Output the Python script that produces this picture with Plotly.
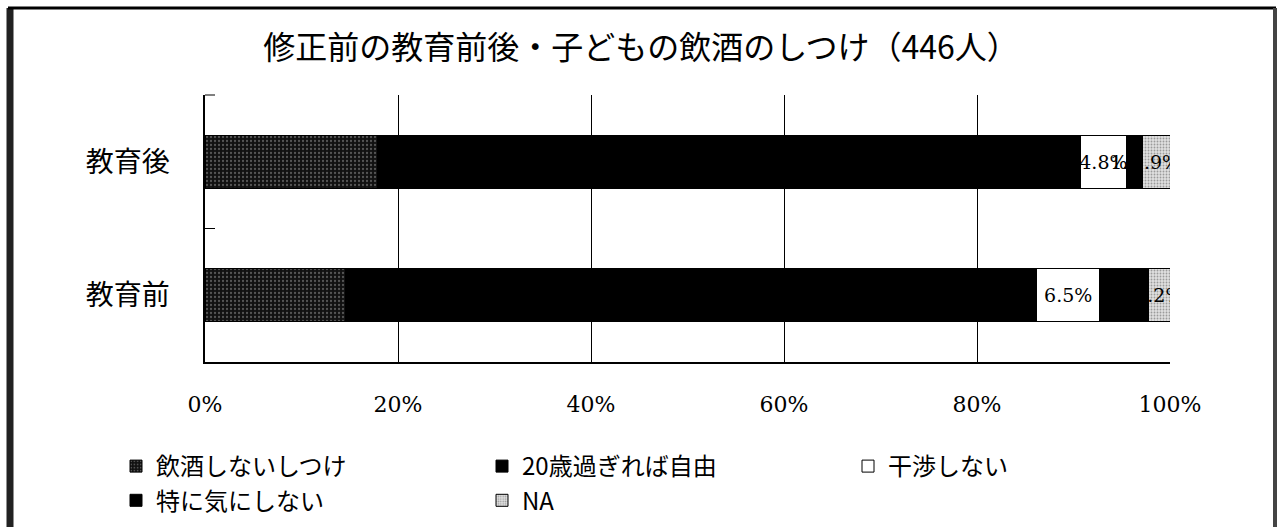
import plotly.graph_objects as go

categories = ["教育前", "教育後"]
series_names = ["飲酒しないしつけ", "20歳過ぎれば自由", "干渉しない", "特に気にしない", "NA"]
v_no_drink = [14.6, 17.9]
v_free20 = [71.6, 72.8]
v_no_interfere = [6.5, 4.8]
v_dont_care = [5.1, 1.6]
v_na = [2.2, 2.9]
series_values = [v_no_drink, v_free20, v_no_interfere, v_dont_care, v_na]
x_ticks = [0, 20, 40, 60, 80, 100]
x_tick_labels = ["0%", "20%", "40%", "60%", "80%", "100%"]
title_text = "修正前の教育前後・子どもの飲酒のしつけ（446人）"

JP = "Noto Sans CJK JP"
SERIF = "DejaVu Serif"

styles = [
    dict(color="#1a1a1a", pattern=dict(shape=".", fgcolor="#9a9a9a", bgcolor="#111111", size=4, solidity=0.25)),
    dict(color="#000000"),
    dict(color="#ffffff"),
    dict(color="#000000"),
    dict(color="#d8d8d8", pattern=dict(shape=".", fgcolor="#555555", bgcolor="#e0e0e0", size=3, solidity=0.3)),
]
show_text = [False, False, True, True, True]

fig = go.Figure()
for name, vals, st, st_txt in zip(series_names, series_values, styles, show_text):
    marker = dict(color=st["color"], line=dict(color="#000000", width=1))
    if "pattern" in st:
        marker["pattern"] = st["pattern"]
    fig.add_trace(go.Bar(
        y=categories, x=vals, name=name, orientation="h",
        marker=marker, width=0.4,
        text=[f"{v:.1f}%" for v in vals] if st_txt else None,
        textposition="inside" if st_txt else "none",
        insidetextanchor="middle",
        textangle=0,
        constraintext="none",
        textfont=dict(family=SERIF, size=19, color="#000000"),
        hoverinfo="x+y+name",
    ))

W, H = 1282, 527
L, R, T, B = 205, 1170, 95, 362

def px(x):
    return (x - L) / (R - L)

def py(y):
    return (B - y) / (B - T)

shapes = [
    dict(type="line", xref="paper", yref="paper", x0=px(10), x1=px(10), y0=py(8), y1=py(530),
         line=dict(color="#222222", width=7)),
    dict(type="line", xref="paper", yref="paper", x0=px(8), x1=px(1276), y0=py(8), y1=py(8),
         line=dict(color="#000000", width=3)),
    dict(type="line", xref="paper", yref="paper", x0=px(1275), x1=px(1275), y0=py(8), y1=py(530),
         line=dict(color="#444444", width=4)),
    dict(type="line", xref="paper", yref="paper", x0=0, x1=px(215), y0=1, y1=1,
         line=dict(color="#000000", width=1)),
]

fig.update_layout(
    width=W, height=H,
    margin=dict(l=L, r=W - R, t=T, b=H - B, autoexpand=False),
    paper_bgcolor="#ffffff", plot_bgcolor="#ffffff",
    barmode="stack",
    title=dict(text=title_text, x=0.5, xanchor="center", y=1 - 48 / H, yanchor="middle",
               font=dict(family=JP, size=32, color="#000000")),
    xaxis=dict(range=[0, 100], tickvals=x_ticks, ticktext=x_tick_labels,
               showgrid=True, gridcolor="#000000", gridwidth=1,
               showline=True, linecolor="#000000", linewidth=1.5, mirror=False,
               ticks="", ticklabelstandoff=22,
               tickfont=dict(family=SERIF, size=22, color="#000000"), zeroline=False, fixedrange=True),
    yaxis=dict(type="category", categoryorder="array", categoryarray=categories,
               showline=True, linecolor="#000000", linewidth=1.5,
               ticks="inside", ticklen=10, tickcolor="#000000", tickwidth=1, tickson="boundaries",
               ticklabelstandoff=28, showgrid=False,
               tickfont=dict(family=JP, size=28, color="#000000"), fixedrange=True),
    legend=dict(orientation="h", x=px(116), xanchor="left", y=py(444), yanchor="top",
                entrywidth=321, entrywidthmode="pixels", traceorder="normal",
                font=dict(family=JP, size=24, color="#000000"), itemwidth=30,
                bgcolor="rgba(0,0,0,0)"),
    uniformtext=dict(minsize=19, mode="show"),
    shapes=shapes,
    showlegend=True,
)

fig.write_html("out.html", config={"displayModeBar": False},
               post_script="document.body.style.margin='0';")
